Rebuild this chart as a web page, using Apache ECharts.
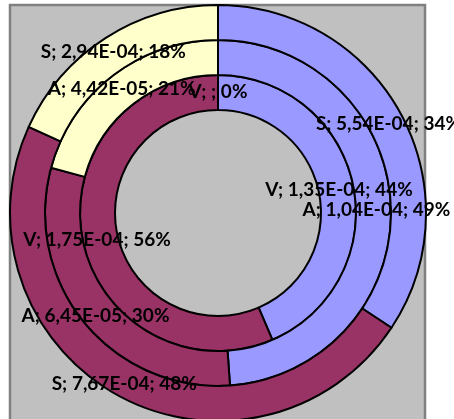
<!DOCTYPE html>
<html>
<head>
<meta charset="utf-8">
<script src="https://cdn.jsdelivr.net/npm/echarts@6/dist/echarts.min.js"></script>
<style>html,body{margin:0;padding:0;background:#fff;}#c{width:454px;height:419px;}</style>
</head>
<body>
<div id="c"></div>
<script>
// Data
const categories = ['c1', 'c2', 'c3'];
const colors = ['#9999ff', '#993366', '#ffffcc'];
const seriesNames = ['V', 'A', 'S']; // inner -> outer
const vValues = [1.35e-4, 1.75e-4, 0];
const aValues = [1.04e-4, 6.45e-5, 4.42e-5];
const sValues = [5.54e-4, 7.67e-4, 2.94e-4];

function fmt(v) {
  if (!v) return '';
  let s = v.toExponential(2);
  let [m, e] = s.split('e');
  let sign = e[0] === '-' ? '-' : '+';
  let n = Math.abs(parseInt(e, 10));
  return m.replace('.', ',') + 'E' + sign + (n < 10 ? '0' + n : n);
}

const chart = echarts.init(document.getElementById('c'), null, { renderer: 'canvas' });
const rings = [[103, 138], [138, 173], [173, 208]];
const allValues = [vValues, aValues, sValues];

function makeSeries(name, i, labelsOnly) {
  return {
    type: 'pie',
    name: name,
    center: [218, 213],
    radius: rings[i],
    startAngle: 90,
    clockwise: true,
    percentPrecision: 0,
    avoidLabelOverlap: false,
    minShowLabelAngle: -1,
    labelLayout: { hideOverlap: false },
    animation: false,
    silent: true,
    itemStyle: labelsOnly
      ? { color: 'rgba(0,0,0,0)', borderWidth: 0 }
      : { borderColor: '#000', borderWidth: 2 },
    label: {
      show: labelsOnly,
      position: 'inside',
      color: '#000',
      fontFamily: 'Lato',
      fontWeight: 'bold',
      fontSize: 19,
      offset: [0, 2],
      formatter: p => name + '; ' + fmt(p.value) + '; ' + p.percent + '%'
    },
    labelLine: { show: false },
    emphasis: { disabled: true },
    z: labelsOnly ? 10 + i : 2 + i,
    data: allValues[i].map((v, k) => ({
      name: categories[k], value: v,
      itemStyle: labelsOnly ? undefined : { color: colors[k] }
    }))
  };
}

const series = [];
seriesNames.forEach((n, i) => series.push(makeSeries(n, i, false)));
seriesNames.forEach((n, i) => series.push(makeSeries(n, i, true)));

chart.setOption({
  backgroundColor: '#ffffff',
  animation: false,
  graphic: [{
    type: 'rect',
    shape: { x: 10, y: 5, width: 415, height: 440 },
    style: { fill: '#c0c0c0', stroke: '#808080', lineWidth: 2.5 },
    z: -10,
    silent: true
  }],
  series: series
});
</script>
</body>
</html>
